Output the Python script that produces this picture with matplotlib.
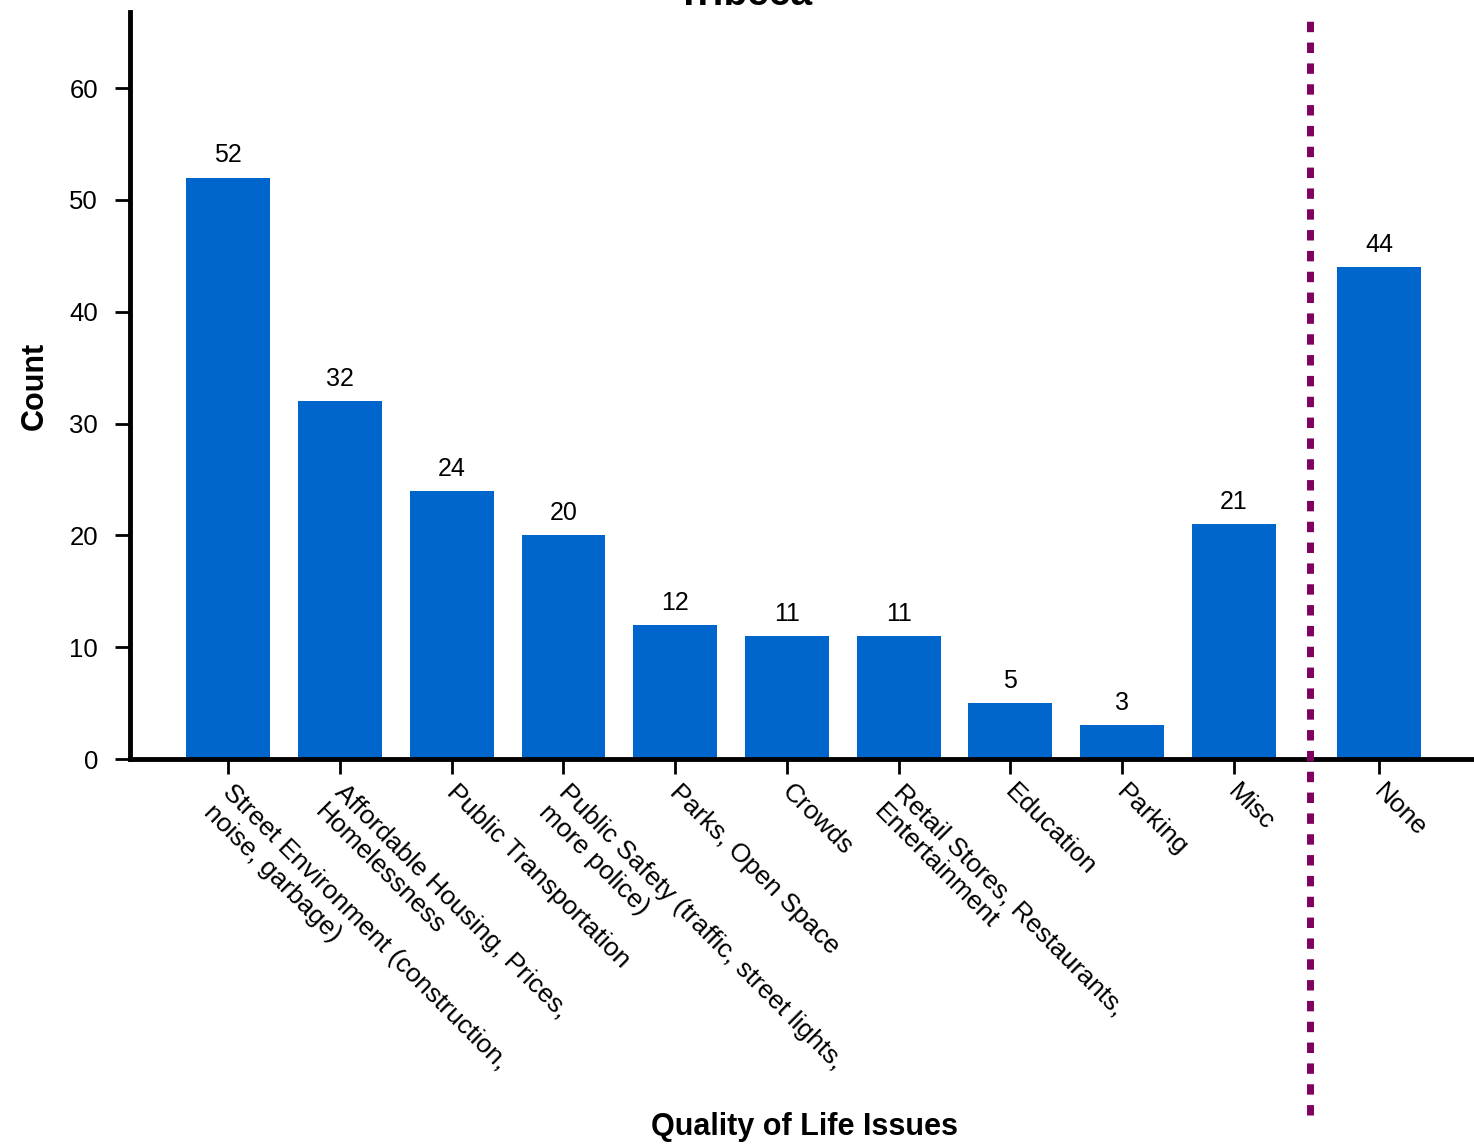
import numpy as np
import matplotlib
matplotlib.use("Agg")
import matplotlib.pyplot as plt
import matplotlib.transforms as mtrans

plt.rcParams['font.family'] = ['Liberation Sans', 'DejaVu Sans']

categories = ['Street Environment (construction,\nnoise, garbage)',
              'Affordable Housing, Prices,\nHomelessness',
              'Public Transportation',
              'Public Safety (traffic, street lights,\nmore police)',
              'Parks, Open Space',
              'Crowds',
              'Retail Stores, Restaurants,\nEntertainment',
              'Education',
              'Parking',
              'Misc',
              'None']
counts = [52, 32, 24, 20, 12, 11, 11, 5, 3, 21, 44]
positions = [0, 1, 2, 3, 4, 5, 6, 7, 8, 9, 10.3]

fig = plt.figure(figsize=(14.74, 11.44), dpi=100)
ax = fig.add_axes([0.0882, 0.3365, 0.9118, 0.653])

bars = ax.bar(positions, counts, width=0.75, color='#0066CC')
for x, v in zip(positions, counts):
    ax.text(x, v + 0.9, str(v), ha='center', va='bottom', fontsize=18, color='black')

ax.set_xlim(-0.88, 11.15)
ax.set_ylim(0, 66.8)
ax.set_yticks([0, 10, 20, 30, 40, 50, 60])
ax.tick_params(axis='y', labelsize=18.5, length=11, width=2, pad=12)
ax.tick_params(axis='x', length=11, width=2, pad=4)
ax.set_xticks(positions)
labs = ax.set_xticklabels(categories, rotation=-45, ha='left', va='top',
                          rotation_mode='anchor', fontsize=19)
shift = mtrans.ScaledTranslation(7 / 100, 0, fig.dpi_scale_trans)
for t in labs:
    t.set_transform(t.get_transform() + shift)

for s in ['top', 'right']:
    ax.spines[s].set_visible(False)
ax.spines['left'].set_linewidth(3.5)
ax.spines['bottom'].set_linewidth(3.5)

# dividing line between issues and "None"
ax.plot([9.68, 9.68], [-31.8, 66.8], color='#800060', lw=5,
        linestyle=(0, (1.5, 1.5)), clip_on=False, zorder=5)

ax.set_ylabel('Count', fontsize=22, fontweight='bold', labelpad=14)
fig.text(0.546, 0.015, 'Quality of Life Issues', ha='center', va='center',
         fontsize=22, fontweight='bold')
fig.text(0.505, 0.996, 'Tribeca', ha='center', va='baseline',
         fontsize=28, fontweight='bold')

fig.savefig('out.png', dpi=100)
